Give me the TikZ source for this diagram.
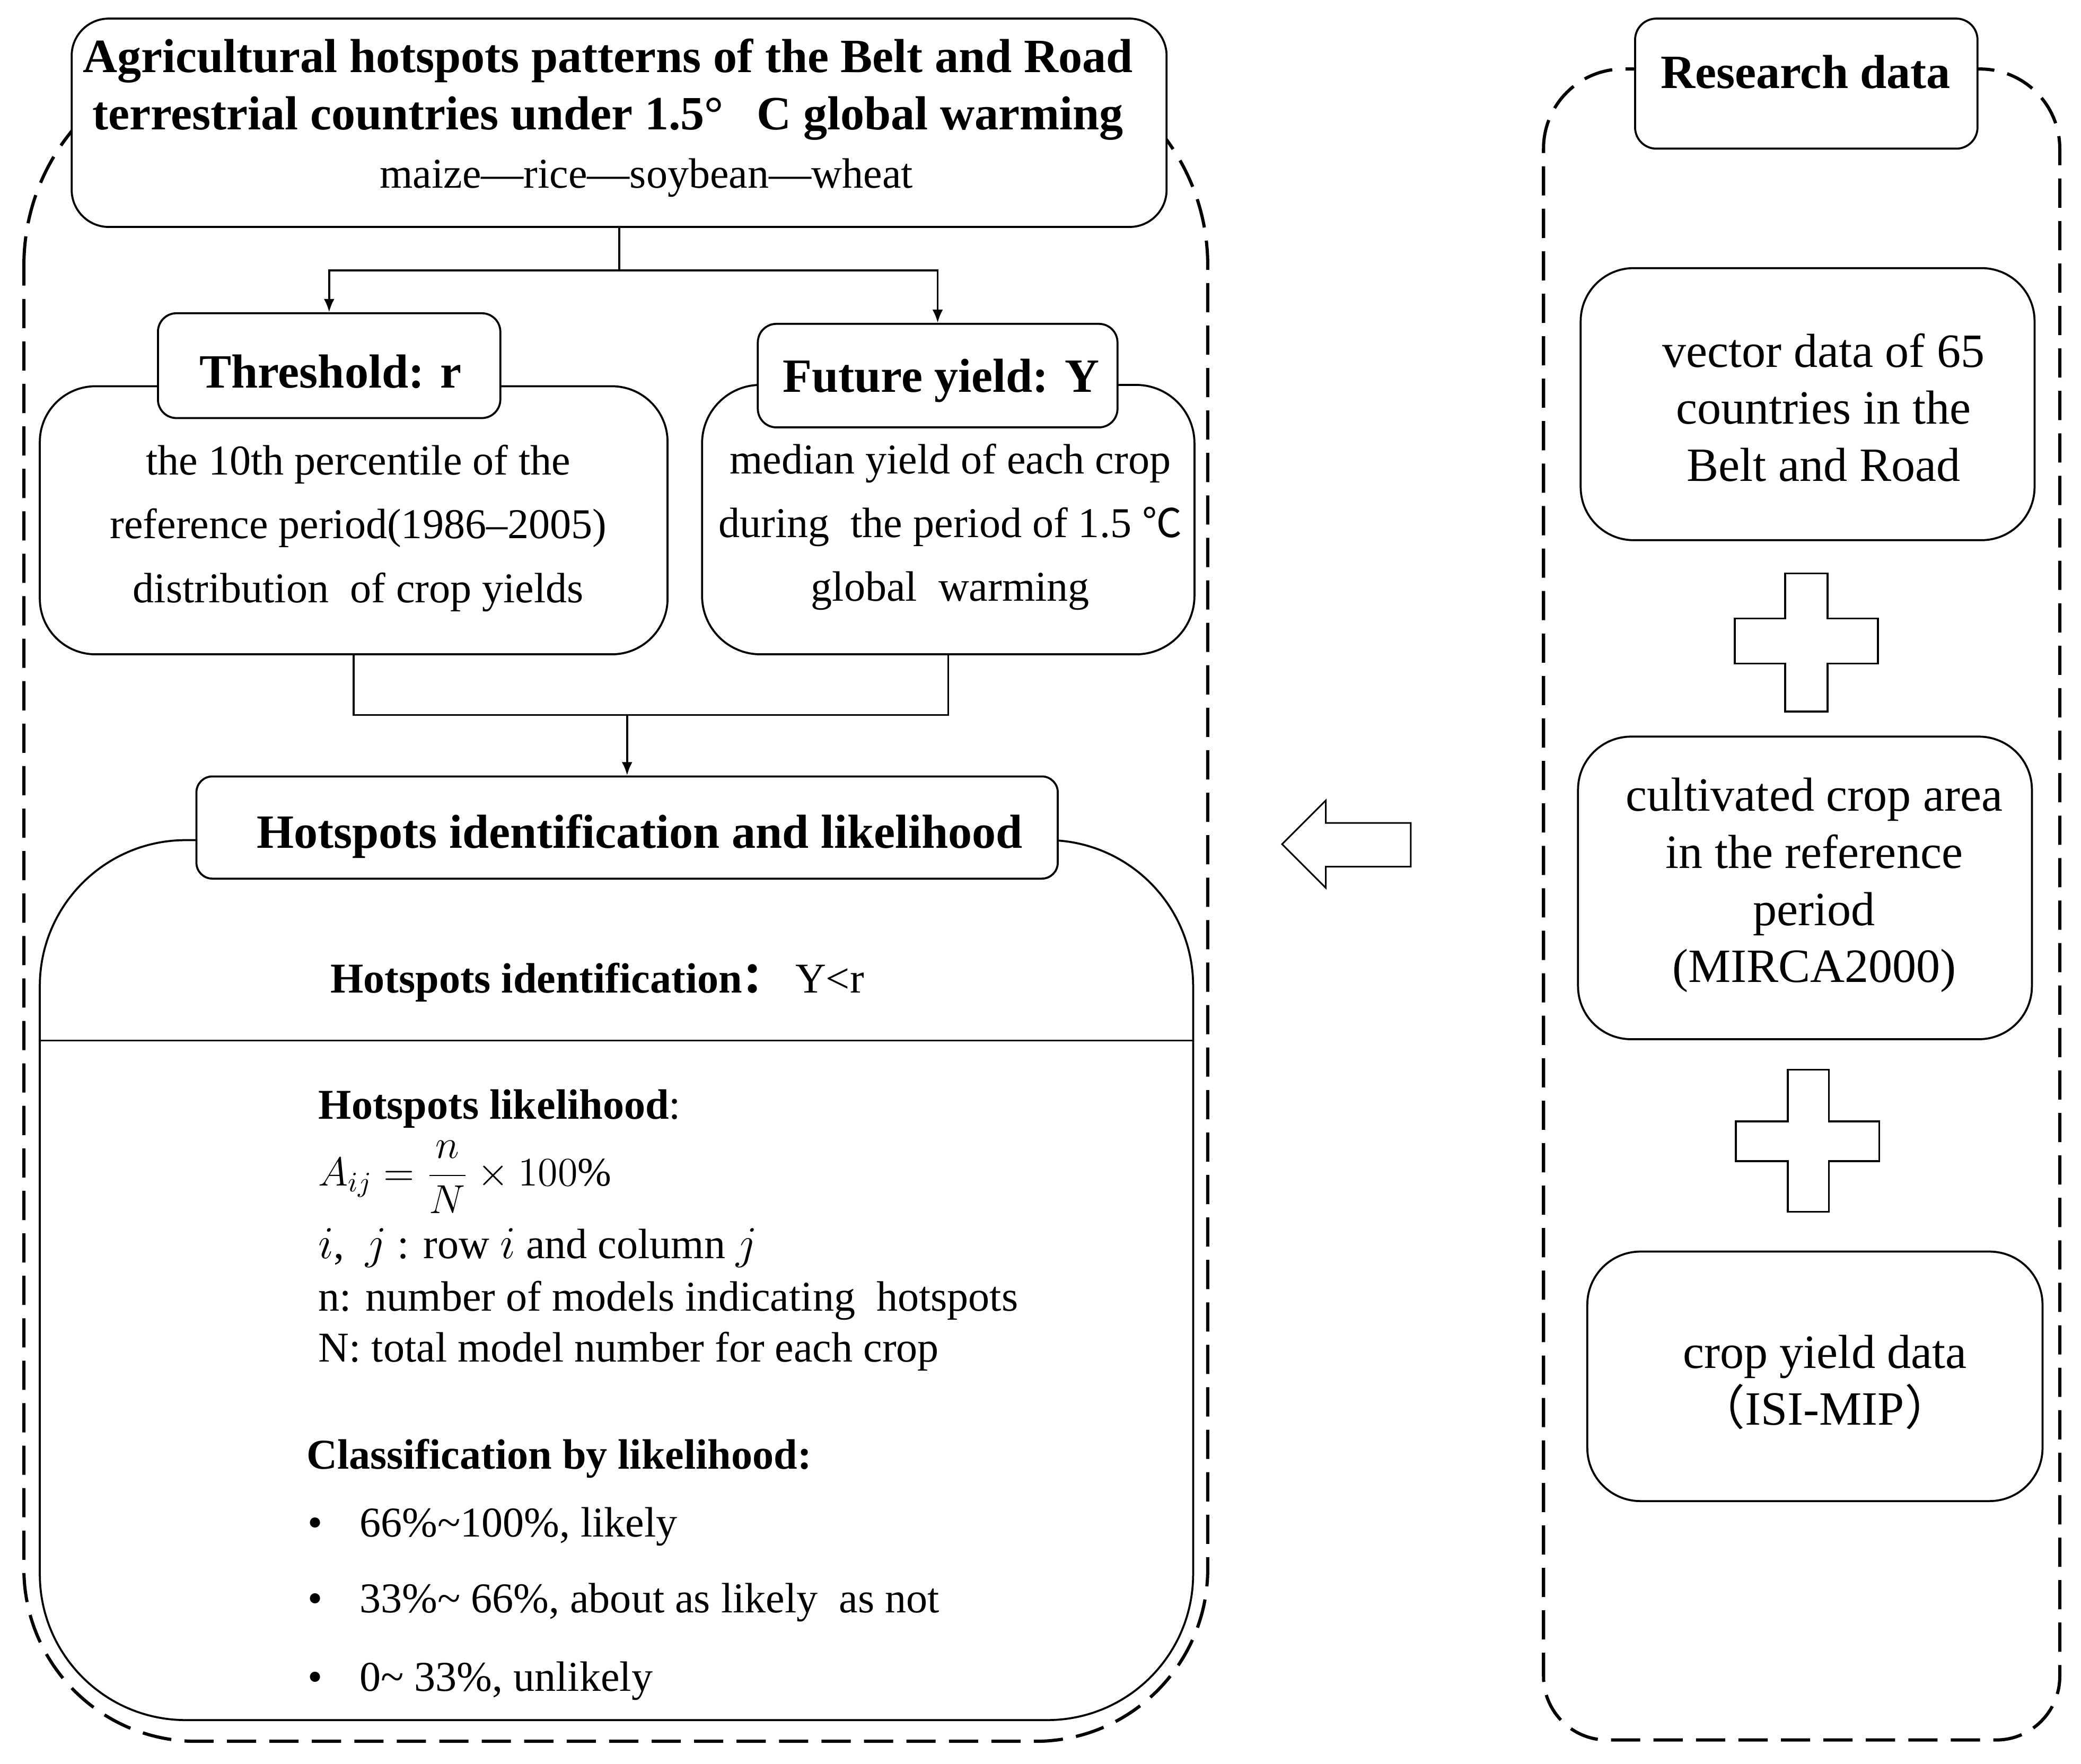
\documentclass[tikz,border=0pt]{standalone}
\usepackage{graphicx}
\usepackage{fontspec}
\setmainfont{Liberation Serif}
\newfontfamily\cjk{Noto Sans CJK SC}
\usetikzlibrary{arrows.meta}
\begin{document}
\begin{tikzpicture}[x=0.5pt,y=-0.5pt,
  box/.style={draw, line width=0.75pt, fill=white, inner sep=0pt},
  dashline/.style={draw, line width=1.2pt, dash pattern=on 11pt off 5pt},
  conn/.style={line width=0.75pt},
  arr/.style={conn, -{Latex[length=5pt,width=4pt]}},
  txt/.style={inner sep=0pt, outer sep=0pt, font=\fontsize{16}{24}\selectfont, align=center},
  btxt/.style={inner sep=0pt, outer sep=0pt, font=\fontsize{18}{21}\selectfont\bfseries, align=center},
  rtxt/.style={inner sep=0pt, outer sep=0pt, font=\fontsize{18}{21.5}\selectfont, align=center},
  ltxt/.style={inner sep=0pt, outer sep=0pt, font=\fontsize{16}{24}\selectfont, anchor=base west},
  shapeline/.style={draw, line width=0.75pt, fill=white}
]
\useasboundingbox (0,0) rectangle (1568,1328.7);

% ---------- left dashed container ----------
\draw[dashline] (18,200) .. controls (18,111.6) and (89.6,40) .. (178,40) -- (750,40)
  .. controls (838.4,40) and (910,111.6) .. (910,200) -- (910,1182)
  .. controls (910,1253.8) and (851.8,1312) .. (780,1312) -- (148,1312)
  .. controls (76.2,1312) and (18,1253.8) .. (18,1182) -- cycle;

% ---------- right dashed container ----------
\draw[dashline] (1163,112) .. controls (1163,78.9) and (1189.9,52) .. (1223,52) -- (1492,52)
  .. controls (1525.1,52) and (1552,78.9) .. (1552,112) -- (1552,1263)
  .. controls (1552,1289.5) and (1530.5,1311) .. (1504,1311) -- (1211,1311)
  .. controls (1184.5,1311) and (1163,1289.5) .. (1163,1263) -- cycle;

% ---------- title ----------
\node[box, rounded corners=14pt, minimum width=412.5pt, minimum height=78.5pt] (title) at (466.5,92.5) {};
\node[btxt] (t1) at (458,46) {Agricultural hotspots patterns of the Belt and Road};
\node[btxt] (t2) at (458,89) {terrestrial countries under 1.5°\hspace{0.7em}C global warming};
\node[txt] (t3) at (487,134) {maize—rice—soybean—wheat};

% ---------- threshold ----------
\node[box, rounded corners=21pt, minimum width=236.5pt, minimum height=101pt] (thrBody) at (266.5,392) {};
\node[box, rounded corners=7pt, minimum width=129pt, minimum height=39.5pt] (thrLabel) at (248,275.5) {};
\node[btxt] (thrText) at (249,280) {Threshold: r};
\node[txt] (thrBodyText) at (270,398) {the 10th percentile of the\\reference period(1986–2005)\\distribution\ \ of crop yields};

% ---------- future yield ----------
\node[box, rounded corners=22pt, minimum width=185.5pt, minimum height=101.5pt] (futBody) at (714.5,391.5) {};
\node[box, rounded corners=7pt, minimum width=135.5pt, minimum height=39pt] (futLabel) at (706.5,283) {};
\node[btxt] (futText) at (709,287) {Future yield: Y};
\node[txt] (futBodyText) at (716,397) {median yield of each crop\\during\ \ the period of 1.5 {\cjk\fontsize{15}{24}\selectfont ℃}\\global\ \ warming};

% ---------- connectors top ----------
\draw[conn] (title.south) -- ++(0,32) coordinate (split);
\draw[arr] (split) -| (thrLabel.north);
\draw[arr] (split) -| (futLabel.north);

% ---------- hotspots ----------
\node[box, rounded corners=55pt, minimum width=434.5pt, minimum height=331.5pt] (hotBig) at (464.5,964.5) {};
\coordinate (divider) at (0,784);
\draw[conn] (hotBig.west |- divider) -- (hotBig.east |- divider);
\node[box, rounded corners=6pt, minimum width=324.5pt, minimum height=38.5pt] (hotLabel) at (472.5,623.5) {};
\node[btxt] (hotText) at (482,630) {Hotspots identification and likelihood};

\draw[conn] (thrBody.south) -- ++(0,45) coordinate (join) -| (futBody.south);
\draw[arr] (hotLabel.north |- join) -- (hotLabel.north);

\node[ltxt, anchor=west] (ident) at (249,740) {{\bfseries Hotspots identification}{\cjk\bfseries ：}\hspace{4pt}Y<r};
\node[ltxt] (lik1) at (240,843) {{\bfseries Hotspots likelihood}:};
\node[ltxt, anchor=west, font=\fontsize{14.4}{22}\selectfont] (formula) at (240,887) {\scalebox{1.06}{$\displaystyle A_{ij}=\frac{n}{N}\times 100\%$}};
\node[ltxt] (lik2) at (240,948) {$i$,\ \ $j$ : row $i$ and column $j$};
\node[ltxt] (lik3) at (240,987.6) {n: number of models indicating\ \ hotspots};
\node[ltxt] (lik4) at (240,1026) {N: total model number for each crop};
\node[ltxt] (cls) at (231,1106.6) {\bfseries Classification by likelihood:};
\node[ltxt] (b1) at (232,1158) {\makebox[19.5pt][l]{•}66\%\textasciitilde100\%, likely};
\node[ltxt] (b2) at (232,1215) {\makebox[19.5pt][l]{•}33\%\textasciitilde\ 66\%, about as likely\ \ as not};
\node[ltxt] (b3) at (232,1274) {\makebox[19.5pt][l]{•}0\textasciitilde\ 33\%, unlikely};

% ---------- hollow arrow ----------
\draw[shapeline, line width=0.6pt] (966,636) -- (999,603) -- (999,620) -- (1063,620) -- (1063,653) -- (999,653) -- (999,669) -- cycle;

% ---------- research data ----------
\node[box, rounded corners=8pt, minimum width=129pt, minimum height=49pt] (resData) at (1361,63) {};
\node[btxt] (resText) at (1360.5,54) {Research data};

\node[box, rounded corners=20pt, minimum width=171pt, minimum height=102.5pt] (box1) at (1362,304.5) {};
\node[rtxt] (box1Text) at (1374,307) {vector data of 65\\countries in the\\Belt and Road};

\draw[shapeline] (1345,432) -- (1377,432) -- (1377,466) -- (1415,466) -- (1415,500) -- (1377,500) -- (1377,536) -- (1345,536) -- (1345,500) -- (1307,500) -- (1307,466) -- (1345,466) -- cycle;

\node[box, rounded corners=20pt, minimum width=171pt, minimum height=114pt] (box2) at (1360,669) {};
\node[rtxt] (box2Text) at (1367,667) {cultivated crop area\\in the reference\\period\\(MIRCA2000)};

\draw[shapeline] (1347,806) -- (1378,806) -- (1378,845) -- (1416,845) -- (1416,875) -- (1378,875) -- (1378,913) -- (1347,913) -- (1347,875) -- (1308,875) -- (1308,845) -- (1347,845) -- cycle;

\node[box, rounded corners=20pt, minimum width=171.5pt, minimum height=94pt] (box3) at (1367.5,1037) {};
\node[rtxt] (box3Text) at (1375,1041.5) {crop yield data\\{\cjk （}ISI-MIP{\cjk ）}};
\end{tikzpicture}
\end{document}
